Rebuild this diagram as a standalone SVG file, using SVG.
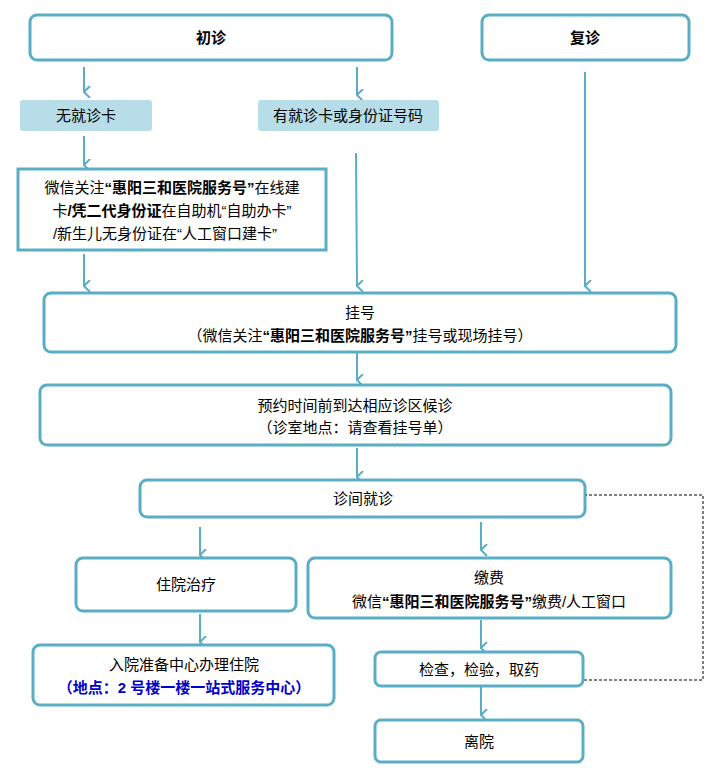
<svg xmlns="http://www.w3.org/2000/svg" width="723" height="783" viewBox="0 0 723 783">
<style>
.b{fill:#fff;stroke:#5aaec4;stroke-width:3}
.l{fill:#b7dee8;stroke:none}
.t{font-family:"Liberation Sans","Noto Sans CJK SC",sans-serif;font-size:15px;fill:#000;text-anchor:middle}
.s{font-weight:bold}
.c{stroke:#5aaec4;stroke-width:2;fill:none}
.d{stroke:#000;stroke-width:1;fill:none;stroke-dasharray:3,2}
</style>
<defs>
<marker id="a" viewBox="0 0 12 10" refX="6" refY="9" markerWidth="12" markerHeight="10" markerUnits="userSpaceOnUse" orient="auto-start-reverse">
<polyline points="0,3 6,9 12,3" fill="none" stroke="#5aaec4" stroke-width="2" transform="rotate(0)"/>
</marker>
<marker id="o" viewBox="0 0 10 10" refX="1" refY="5" markerWidth="10" markerHeight="10" markerUnits="userSpaceOnUse" orient="auto">
<polyline points="9,1 1,5 9,9" fill="none" stroke="#000" stroke-width="1"/>
</marker>
</defs>
<g id="connectors">
<line class="c" x1="84" y1="67" x2="84" y2="92" marker-end="url(#a)"/>
<line class="c" x1="357" y1="67" x2="357" y2="95" marker-end="url(#a)"/>
<line class="c" x1="84" y1="136" x2="84" y2="165" marker-end="url(#a)"/>
<line class="c" x1="84" y1="254" x2="84" y2="286" marker-end="url(#a)"/>
<line class="c" x1="356" y1="153" x2="357" y2="286" marker-end="url(#a)"/>
<line class="c" x1="585" y1="72" x2="585" y2="286" marker-end="url(#a)"/>
<line class="c" x1="357" y1="352" x2="357" y2="380" marker-end="url(#a)"/>
<line class="c" x1="357" y1="448" x2="357" y2="477" marker-end="url(#a)"/>
<line class="c" x1="200" y1="527" x2="200" y2="555" marker-end="url(#a)"/>
<line class="c" x1="481" y1="522" x2="481" y2="550" marker-end="url(#a)"/>
<line class="c" x1="200" y1="614" x2="200" y2="642" marker-end="url(#a)"/>
<line class="c" x1="481" y1="620" x2="481" y2="648" marker-end="url(#a)"/>
<line class="c" x1="481" y1="686" x2="481" y2="715" marker-end="url(#a)"/>
<polyline class="d" points="584,680 703,680 703,495 587,495" marker-end="url(#o)"/>
</g>
<g id="n1"><rect class="b" x="30" y="15" width="362" height="45" rx="7"/><text class="t s" x="211" y="43">初诊</text></g>
<g id="n2"><rect class="b" x="482" y="15" width="207" height="45" rx="7"/><text class="t s" x="585" y="43">复诊</text></g>
<g id="n3"><rect class="l" x="20" y="100" width="132" height="31" rx="3"/><text class="t" x="86" y="121">无就诊卡</text></g>
<g id="n4"><rect class="l" x="258" y="100" width="181" height="31" rx="3"/><text class="t" x="348" y="121">有就诊卡或身份证号码</text></g>
<g id="n5"><rect class="b" x="18" y="169" width="308" height="81"/>
<text class="t" x="172" y="193">微信关注<tspan class="s">“惠阳三和医院服务号”</tspan>在线建</text>
<text class="t" x="172" y="216">卡<tspan class="s">/凭二代身份证</tspan>在自助机“自助办卡”</text>
<text class="t" x="165" y="239">/新生儿无身份证在“人工窗口建卡”</text></g>
<g id="n6"><rect class="b" x="44" y="293" width="632" height="59" rx="7"/><text class="t" x="360" y="318">挂号</text><text class="t" x="360" y="341">（微信关注<tspan class="s">“惠阳三和医院服务号”</tspan>挂号或现场挂号）</text></g>
<g id="n7"><rect class="b" x="40" y="385" width="631" height="60" rx="7"/><text class="t" x="355" y="411">预约时间前到达相应诊区候诊</text><text class="t" x="355" y="433">（诊室地点：请查看挂号单）</text></g>
<g id="n8"><rect class="b" x="140" y="480" width="445" height="37" rx="7"/><text class="t" x="363" y="504">诊间就诊</text></g>
<g id="n9"><rect class="b" x="76" y="558" width="220" height="53" rx="7"/><text class="t" x="186" y="590">住院治疗</text></g>
<g id="n10"><rect class="b" x="308" y="558" width="363" height="60" rx="7"/><text class="t" x="489" y="583">缴费</text><text class="t" x="489" y="607">微信<tspan class="s">“惠阳三和医院服务号”</tspan>缴费/人工窗口</text></g>
<g id="n11"><rect class="b" x="33" y="645" width="301" height="60" rx="7"/><text class="t" x="184" y="670">入院准备中心办理住院</text><text class="t s" x="184" y="693" fill="#0000cc" style="fill:#0000cc">（地点：2 号楼一楼一站式服务中心）</text></g>
<g id="n12"><rect class="b" x="375" y="652" width="208" height="34" rx="6"/><text class="t" x="479" y="675">检查，检验，取药</text></g>
<g id="n13"><rect class="b" x="375" y="720" width="208" height="42" rx="6"/><text class="t" x="479" y="747">离院</text></g>
</svg>
